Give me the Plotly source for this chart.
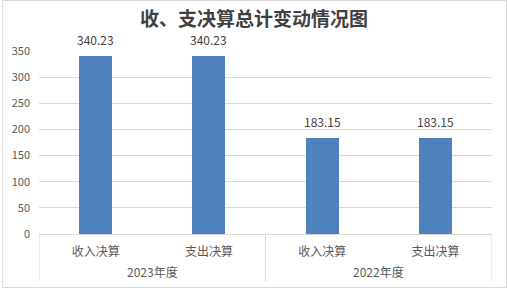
import plotly.graph_objects as go

# Data
years = ["2023年度", "2022年度"]
items = ["收入决算", "支出决算"]
values = [340.23, 340.23, 183.15, 183.15]
y_ticks = [0, 50, 100, 150, 200, 250, 300, 350]

W, H = 508, 290
ML, MR, MT, MB = 37, 16, 51, 56
PW, PH = W - ML - MR, H - MT - MB
BOTTOM_PX = H - MB  # pixel row of the category axis

BAR = "#4F81BD"
GRID = "#D9D9D9"
TXT = "#595959"
FONT = "Noto Sans CJK SC, Liberation Sans, sans-serif"


def py(px):
    """Pixel row -> paper y coordinate."""
    return (BOTTOM_PX - px) / PH


def px_x(px):
    """Pixel column -> paper x coordinate."""
    return (px - ML) / PW


x_idx = list(range(len(values)))
tick_text = [items[i % len(items)] for i in x_idx]

fig = go.Figure()
fig.add_trace(go.Bar(
    x=x_idx, y=values, width=0.29, marker=dict(color=BAR, line=dict(width=0)),
    hoverinfo="skip",
))

# Value labels above bars
for xi, v in zip(x_idx, values):
    fig.add_annotation(
        x=xi, y=v, xref="x", yref="y", text=f"{v:.2f}", showarrow=False,
        yanchor="bottom", yshift=6, font=dict(family=FONT, size=12, color="#404040"),
    )

# Group labels and dividers on the category axis
n_per = len(items)
for g, yr in enumerate(years):
    center = g * n_per + (n_per - 1) / 2
    fig.add_annotation(
        x=center, y=0, xref="x", yref="paper", text=yr, showarrow=False,
        yanchor="middle", yshift=-37, font=dict(family=FONT, size=12, color=TXT),
    )
for b in range(len(years) + 1):
    xb = b * n_per - 0.5
    fig.add_shape(type="line", xref="x", yref="paper", x0=xb, x1=xb,
                  y0=0, y1=py(281.5), line=dict(color=GRID, width=1))

# Chart frame
fig.add_shape(type="rect", xref="paper", yref="paper",
              x0=px_x(0.5), x1=px_x(506.5), y0=py(287.5), y1=py(0.5),
              line=dict(color=GRID, width=1), fillcolor="rgba(0,0,0,0)")

fig.update_layout(
    width=W, height=H,
    margin=dict(l=ML, r=MR, t=MT, b=MB),
    paper_bgcolor="white", plot_bgcolor="white",
    showlegend=False,
    bargap=0,
    title=dict(text="<b>收、支决算总计变动情况图</b>", x=0.5, xref="container",
               y=1 - 19 / H, yref="container", yanchor="middle", xanchor="center",
               font=dict(family=FONT, size=19, color="#404040")),
    xaxis=dict(range=[-0.5, len(values) - 0.5], tickvals=x_idx, ticktext=tick_text,
               showgrid=False, zeroline=False, showline=True, linecolor=GRID,
               linewidth=1, ticks="", ticklabelstandoff=7,
               tickfont=dict(family=FONT, size=12, color=TXT), fixedrange=True),
    yaxis=dict(range=[0, 350], tickvals=y_ticks, showgrid=True, gridcolor=GRID,
               gridwidth=1, zeroline=False, showline=False, ticks="",
               ticklabelstandoff=8,
               tickfont=dict(family=FONT, size=11, color=TXT), fixedrange=True),
)

fig.write_html("out.html", config={"displayModeBar": False})
